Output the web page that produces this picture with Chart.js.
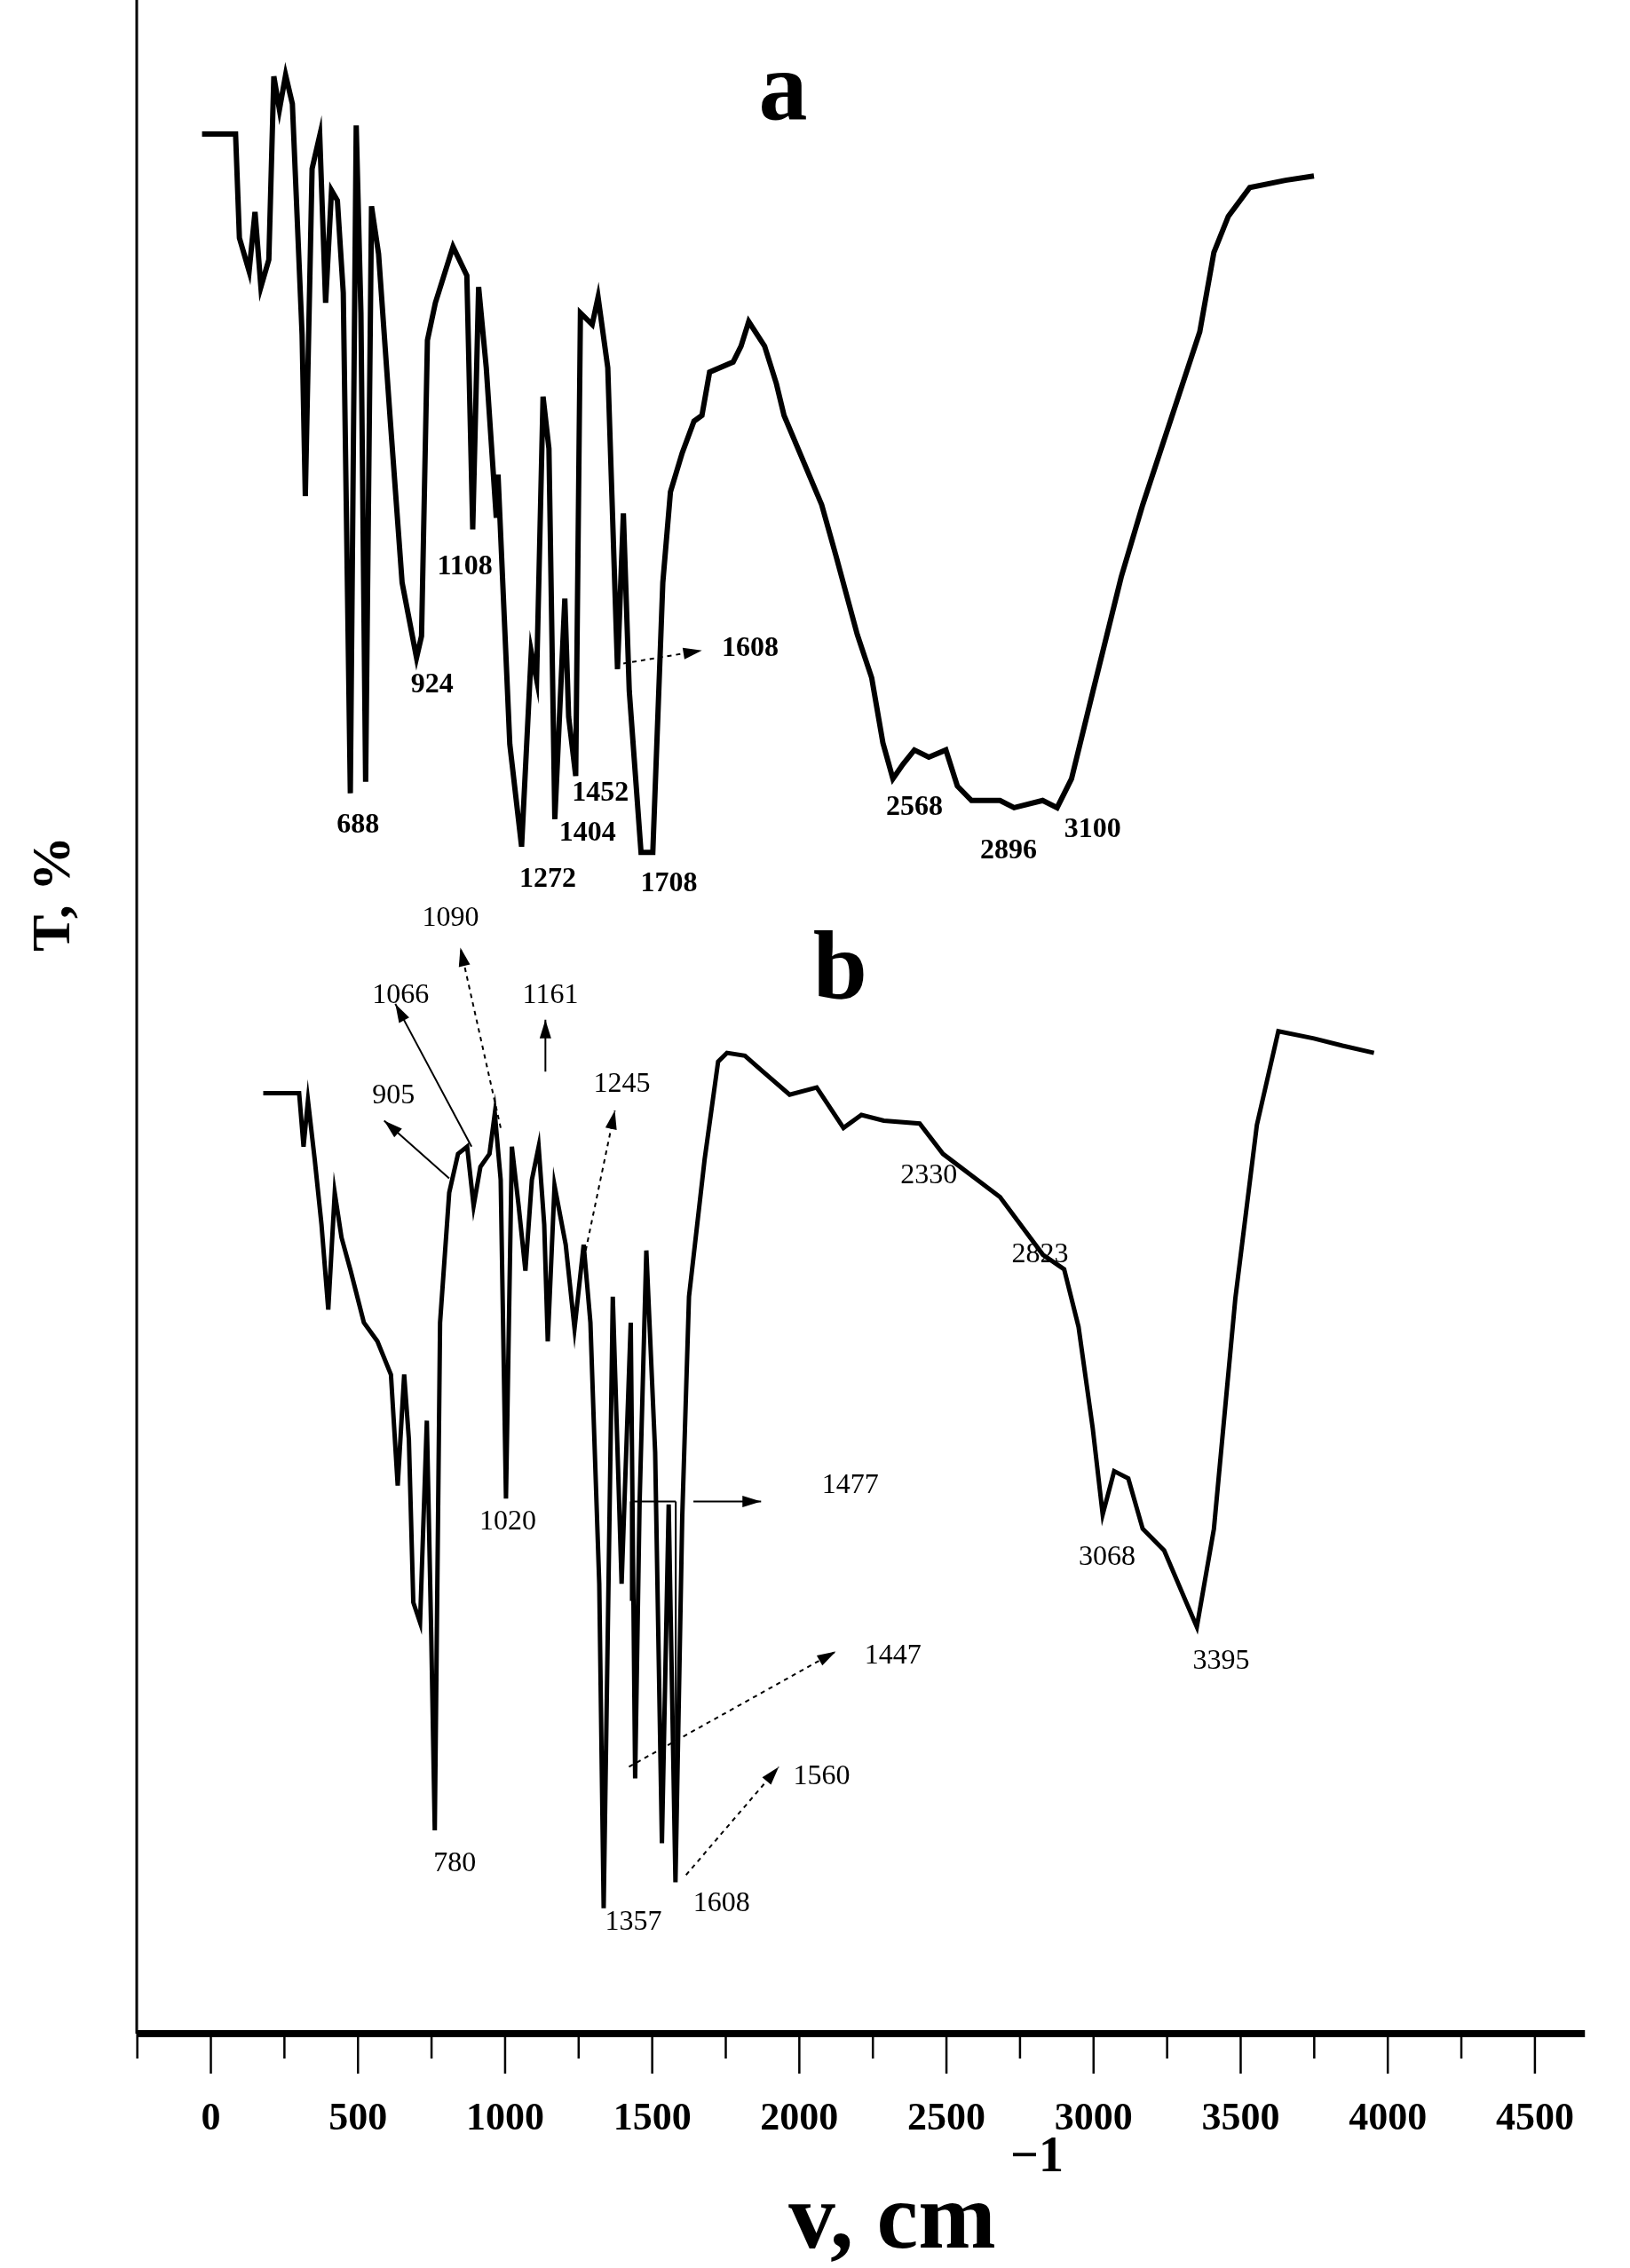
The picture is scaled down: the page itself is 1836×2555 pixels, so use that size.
<!DOCTYPE html>
<html><head><meta charset="utf-8">
<script src="https://cdn.jsdelivr.net/npm/chart.js@4.4.0/dist/chart.umd.min.js"></script>
<style>html,body{margin:0;padding:0;background:#fff}#w{width:1836px;height:2555px}</style>
</head><body><div id="w"><canvas id="c"></canvas></div>
<script>
const waveA=[-30,84,97,130,150,170,197,214,233,254,277,310,321,344,370,390,410,430,450,474,494,510,526,546,570,610,650,699,716,736,763,823,870,890,910,936,970,976,1016,1056,1089,1107,1129,1149,1169,1203,1216,1240,1256,1296,1316,1349,1382,1402,1422,1462,1502,1536,1562,1602,1642,1669,1695,1775,1802,1828,1882,1922,1948,2076,2124,2197,2246,2284,2318,2352,2391,2440,2498,2537,2585,2682,2730,2827,2876,2925,2997,3094,3167,3264,3361,3409,3458,3531,3652,3749];
const transA=[1317,1317,1245,1222,1263,1211,1230,1357,1334,1358,1338,1178,1066,1293,1316,1200,1278,1271,1207,860,1323,1193,868,1267,1234,1118,1006,954,969,1174,1200,1239,1219,1043,1211,1155,1051,1081,894,823,958,939,1135,1099,842,995,913,872,1193,1185,1204,1155,946,1054,931,819,819,1006,1069,1096,1118,1122,1152,1159,1170,1187,1170,1144,1122,1060,1025,970,940,895,870,880,890,885,890,865,855,855,850,855,850,870,930,1010,1060,1120,1180,1235,1260,1280,1285,1288];
const waveB=[178,300,315,330,353,376,399,421,444,475,520,566,612,635,657,673,688,711,734,749,761,779,810,840,871,893,916,947,965,985,1003,1023,1046,1069,1091,1114,1133,1145,1168,1206,1236,1267,1290,1320,1335,1366,1396,1427,1442,1457,1480,1510,1533,1556,1579,1602,1625,1678,1724,1754,1815,1876,1967,2059,2150,2211,2287,2409,2488,2682,2828,2900,2949,2997,3031,3070,3118,3167,3240,3313,3351,3409,3482,3555,3628,3749,3846,3953];
const transB=[652,652,615,647,606,561,502,583,552,529,493,480,457,380,457,412,299,285,425,276,141,493,583,610,615,574,601,610,638,592,371,615,574,529,592,615,561,480,588,547,489,547,493,312,87,511,312,493,177,367,543,403,132,367,105,358,511,606,674,680,678,667,651,656,628,637,633,631,610,580,540,530,490,420,360,390,385,350,335,300,282,350,510,630,695,690,685,680];
const tickLabels=['0','500','1000','1500','2000','2500','3000','3500','4000','4500'];
const labelsA=[['688',500,838],['924',752,935],['1108',863,1017],['1272',1145,800],['1404',1280,832],['1452',1324,860],['1708',1557,797],['1608',1833,960],['2568',2391,850],['2896',2711,820],['3100',2997,835]];
const labelsB=[['905',621,650],['1066',645,720],['1090',815,773],['1161',1154,720],['1245',1397,658],['2330',2440,595],['2823',2818,540],['1020',1009,355],['1477',2173,380],['1447',2318,262],['1560',2076,178],['780',829,118],['1357',1436,77],['1608',1736,90],['3068',3046,330],['3395',3434,258]];
const arrows=[[1402,950,1669,959,true],[810,593,589,633,false],[886,615,627,714,false],[985,628,848,753,true],[1137,667,1137,703,false],[1274,543,1373,640,true],[1640,369,1870,369,false],[1421,185,2124,265,true],[1615,110,1930,185,true]];
const segs=[[1427,369,1580,369],[1427,369,1427,300],[1580,369,1580,140]];

const deco={id:'deco',afterDatasetsDraw(ch){
 const c=ch.ctx,x=ch.scales.x,y=ch.scales.y,a=ch.chartArea;
 const X=v=>x.getPixelForValue(v),Y=v=>y.getPixelForValue(v);
 c.save();c.strokeStyle='#000';c.fillStyle='#000';
 c.lineWidth=3;c.beginPath();c.moveTo(a.left,0);c.lineTo(a.left,a.bottom);c.stroke();
 c.lineWidth=8;c.beginPath();c.moveTo(a.left,a.bottom);c.lineTo(a.right,a.bottom);c.stroke();
 c.lineWidth=2.5;
 for(let v=-250;v<=4500;v+=250){const p=X(v);const L=(v%500===0)?45:28;c.beginPath();c.moveTo(p,a.bottom);c.lineTo(p,a.bottom+L);c.stroke();}
 c.textAlign='center';c.textBaseline='middle';
 c.font='bold 32px "Liberation Serif"';
 labelsA.forEach(l=>c.fillText(l[0],X(l[1]),Y(l[2])));
 c.font='32px "Liberation Serif"';
 labelsB.forEach(l=>c.fillText(l[0],X(l[1]),Y(l[2])));
 c.font='bold 110px "Liberation Serif"';
 c.fillText('a',X(1945),Y(1345));c.fillText('b',X(2139),Y(735));
 c.lineWidth=2;
 segs.forEach(s=>{c.beginPath();c.moveTo(X(s[0]),Y(s[1]));c.lineTo(X(s[2]),Y(s[3]));c.stroke();});
 arrows.forEach(r=>{const x1=X(r[0]),y1=Y(r[1]),x2=X(r[2]),y2=Y(r[3]);
  c.setLineDash(r[4]?[5,5]:[]);c.beginPath();c.moveTo(x1,y1);c.lineTo(x2,y2);c.stroke();c.setLineDash([]);
  const an=Math.atan2(y2-y1,x2-x1),h=22;c.beginPath();c.moveTo(x2,y2);
  c.lineTo(x2-h*Math.cos(an-0.3),y2-h*Math.sin(an-0.3));c.lineTo(x2-h*Math.cos(an+0.3),y2-h*Math.sin(an+0.3));c.closePath();c.fill();});
 c.font='bold 105px "Liberation Serif"';c.textAlign='center';
 c.fillText('v, cm',1005,2505);c.font='bold 56px "Liberation Serif"';c.fillText('−1',1168,2432);
 c.translate(62,1007);c.rotate(-Math.PI/2);c.font='bold 62px "Liberation Serif"';c.fillText('T, %',0,0);
 c.restore();}};

new Chart(document.getElementById('c'),{type:'line',
 data:{datasets:[
  {data:waveA.map((v,i)=>({x:v,y:transA[i]})),borderColor:'#000',borderWidth:6,pointRadius:0,tension:0,fill:false},
  {data:waveB.map((v,i)=>({x:v,y:transB[i]})),borderColor:'#000',borderWidth:5,pointRadius:0,tension:0,fill:false}]},
 options:{responsive:true,maintainAspectRatio:false,animation:false,
  layout:{padding:{left:154,right:32,top:0,bottom:0}},
  plugins:{legend:{display:false},tooltip:{enabled:false}},
  scales:{
   x:{type:'linear',min:-252,max:4670,border:{display:false},grid:{display:false},
      afterFit:s=>{s.height=264;},
      ticks:{stepSize:500,padding:62,color:'#000',font:{family:'Liberation Serif',weight:'bold',size:44},
        callback:v=>(v>=0&&v%500===0)?tickLabels[v/500]:''},
      afterBuildTicks:s=>{s.ticks=[];for(let v=0;v<=4500;v+=500)s.ticks.push({value:v});}},
   y:{display:false,min:0,max:1410}}},
 plugins:[deco]});
</script></body></html>
